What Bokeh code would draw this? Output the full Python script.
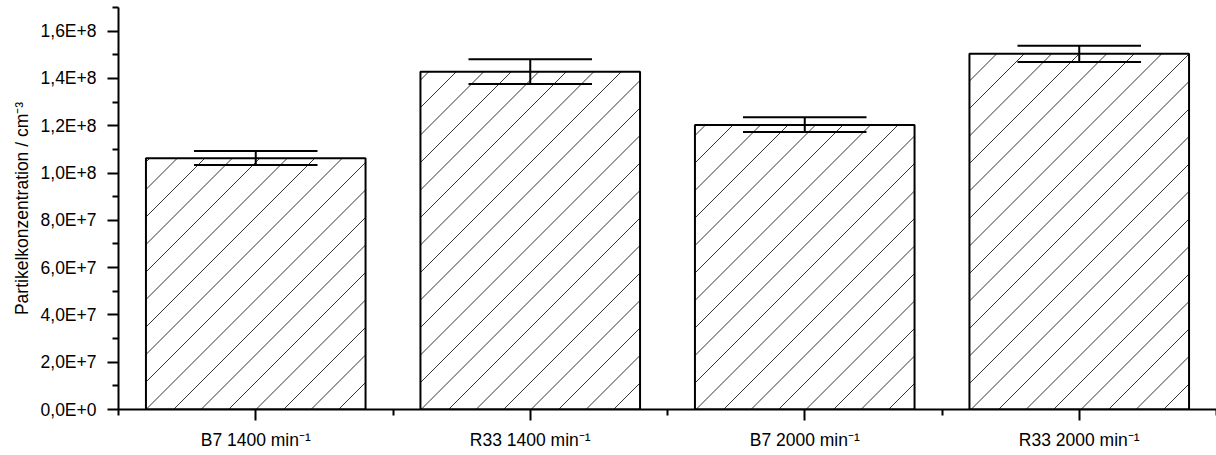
from bokeh.plotting import figure
from bokeh.models import Range1d, FixedTicker
from bokeh.embed import file_html
from bokeh.resources import INLINE

categories = ["B7 1400 min⁻¹", "R33 1400 min⁻¹", "B7 2000 min⁻¹", "R33 2000 min⁻¹"]
values = [1.063e8, 1.428e8, 1.203e8, 1.504e8]
err_upper = [1.093e8, 1.481e8, 1.236e8, 1.538e8]
err_lower = [1.034e8, 1.377e8, 1.174e8, 1.470e8]
y_ticks = [0, 2e7, 4e7, 6e7, 8e7, 1e8, 1.2e8, 1.4e8, 1.6e8]
y_tick_labels = ["0,0E+0", "2,0E+7", "4,0E+7", "6,0E+7", "8,0E+7",
                 "1,0E+8", "1,2E+8", "1,4E+8", "1,6E+8"]

FONT = "Liberation Sans"
W, H = 1216, 455
B_LEFT, B_RIGHT, B_TOP, B_BOTTOM = 118, 0, 7, 46
X_MAX, Y_MAX = len(categories), 1.7e8
BAR_W = 0.8
xs = [i + 0.5 for i in range(len(categories))]

p = figure(width=W, height=H, output_backend="svg", toolbar_location=None,
           x_range=Range1d(0, X_MAX), y_range=Range1d(0, Y_MAX),
           min_border_left=B_LEFT, min_border_right=B_RIGHT,
           min_border_top=B_TOP, min_border_bottom=B_BOTTOM)
p.outline_line_color = None
p.grid.visible = False
p.background_fill_color = "white"
p.border_fill_color = "white"

# bar fill
p.vbar(x=xs, top=values, bottom=0, width=BAR_W, fill_color="white", line_color=None)

# 45-degree hatch lines (computed in screen space, converted back to data units)
sx = (W - B_LEFT - B_RIGHT) / X_MAX
sy = (H - B_TOP - B_BOTTOM) / Y_MAX
spacing = 27.5
hx0, hy0, hx1, hy1 = [], [], [], []
for x, v in zip(xs, values):
    L, R, T = (x - BAR_W / 2) * sx, (x + BAR_W / 2) * sx, v * sy
    k = int((L - T) // spacing) - 1
    while k * spacing <= R:
        c = k * spacing
        u0, u1 = max(L, c), min(R, c + T)
        if u1 > u0:
            hx0.append(u0 / sx); hy0.append((u0 - c) / sy)
            hx1.append(u1 / sx); hy1.append((u1 - c) / sy)
        k += 1
p.segment(x0=hx0, y0=hy0, x1=hx1, y1=hy1, line_color="#333333", line_width=1)

# bar outline
p.vbar(x=xs, top=values, bottom=0, width=BAR_W, fill_color=None,
       line_color="black", line_width=2)

cap = 0.225
p.segment(x0=xs, y0=err_lower, x1=xs, y1=err_upper, line_color="black", line_width=2)
p.segment(x0=[x - cap for x in xs], y0=err_upper, x1=[x + cap for x in xs], y1=err_upper,
          line_color="black", line_width=2)
p.segment(x0=[x - cap for x in xs], y0=err_lower, x1=[x + cap for x in xs], y1=err_lower,
          line_color="black", line_width=2)

# x axis
p.xaxis.ticker = FixedTicker(ticks=xs, minor_ticks=[0, 1, 2, 3, 4])
p.xaxis.major_label_overrides = {x: c for x, c in zip(xs, categories)}
# y axis
p.yaxis.ticker = FixedTicker(ticks=y_ticks,
                             minor_ticks=[1e7, 3e7, 5e7, 7e7, 9e7, 1.1e8, 1.3e8, 1.5e8, 1.7e8])
p.yaxis.major_label_overrides = {t: l for t, l in zip(y_ticks, y_tick_labels)}
p.yaxis.axis_label = "Partikelkonzentration / cm⁻³"

for ax in (p.xaxis[0], p.yaxis[0]):
    ax.axis_line_width = 2
    ax.axis_line_color = "black"
    ax.major_tick_line_width = 2
    ax.minor_tick_line_width = 2
    ax.major_tick_line_color = "black"
    ax.minor_tick_line_color = "black"
    ax.major_tick_out = 11
    ax.major_tick_in = 0
    ax.minor_tick_out = 6
    ax.minor_tick_in = 0
    ax.major_label_text_font = FONT
    ax.major_label_text_font_size = "17.5px"
    ax.major_label_text_color = "black"
    ax.axis_label_text_font = FONT
    ax.axis_label_text_font_size = "17.5px"
    ax.axis_label_text_font_style = "normal"
    ax.axis_label_text_color = "black"

p.yaxis.major_label_standoff = 11
p.xaxis.major_label_standoff = 9
p.yaxis.axis_label_standoff = 6

open("out.html", "w").write(file_html(p, INLINE))
